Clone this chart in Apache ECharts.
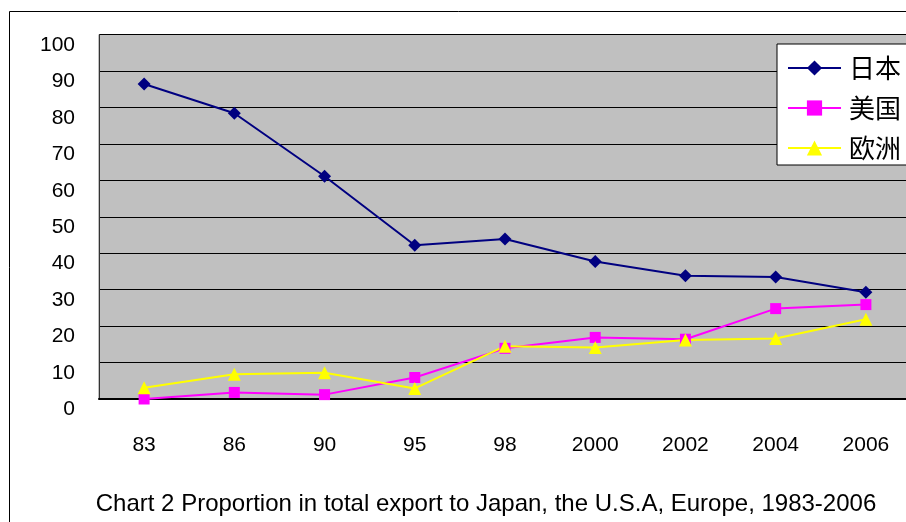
<!DOCTYPE html>
<html>
<head>
<meta charset="utf-8">
<script src="https://cdn.jsdelivr.net/npm/echarts@6/dist/echarts.min.js"></script>
<style>
  html, body { margin: 0; padding: 0; background: #fff; }
  #chart { width: 906px; height: 522px; }
</style>
</head>
<body>
<div id="chart"></div>
<script>
// categories (years) and series values
var years = ['83', '86', '90', '95', '98', '2000', '2002', '2004', '2006'];
var japan = [86.4, 78.4, 61.1, 42.2, 43.9, 37.7, 33.8, 33.5, 29.3];
var usa = [0, 1.8, 1.2, 5.9, 13.9, 16.9, 16.4, 24.8, 25.9];
var europe = [3.1, 6.8, 7.2, 2.9, 14.5, 14.1, 16.2, 16.6, 21.9];
var seriesNames = ['日本', '美国', '欧洲'];
var chartTitle = 'Chart 2 Proportion in total export to Japan, the U.S.A, Europe, 1983-2006';

var font = '"Liberation Sans", Arial, sans-serif';
var cjkFont = '"Noto Sans CJK SC", sans-serif';

var chart = echarts.init(document.getElementById('chart'));

function lineSeries(name, data, color, symbol, size, width) {
    return {
        name: name,
        type: 'line',
        data: data,
        symbol: symbol,
        symbolSize: size,
        showSymbol: true,
        animation: false,
        lineStyle: { color: color, width: width },
        itemStyle: { color: color, borderWidth: 0 },
        emphasis: { disabled: true }
    };
}

chart.setOption({
    animation: false,
    title: {
        text: chartTitle,
        left: 481,
        textAlign: 'center',
        top: 487,
        textStyle: { fontFamily: font, fontSize: 24, fontWeight: 'normal', color: '#000' }
    },
    graphic: [{
        type: 'rect',
        shape: { x: 9.5, y: 11.5, width: 1000, height: 1000 },
        style: { fill: 'none', stroke: '#000', lineWidth: 1 },
        z: 0
    }],
    legend: {
        data: seriesNames,
        orient: 'vertical',
        left: 777,
        top: 44,
        padding: [10, 30, 3, 10],
        itemGap: 12,
        itemWidth: 53,
        itemHeight: 19,
        backgroundColor: '#fff',
        borderColor: '#000',
        borderWidth: 1,
        textStyle: { fontFamily: cjkFont, fontSize: 26, color: '#000', lineHeight: 28, padding: [0, 0, 0, 3] }
    },
    grid: {
        left: 99,
        top: 34.5,
        width: 812,
        bottom: 123,
        outerBoundsMode: 'none',
        show: true,
        backgroundColor: '#C0C0C0',
        borderColor: '#808080',
        borderWidth: 1
    },
    xAxis: {
        type: 'category',
        data: years,
        boundaryGap: true,
        axisLine: { lineStyle: { color: '#000', width: 2 } },
        axisTick: { inside: true, length: 8, lineStyle: { color: '#000' } },
        axisLabel: { margin: 36, fontFamily: font, fontSize: 21, color: '#000' },
        splitLine: { show: false }
    },
    yAxis: {
        type: 'value',
        min: 0,
        max: 100,
        interval: 10,
        axisLine: { show: true, lineStyle: { color: '#333', width: 1 } },
        axisTick: { show: false },
        axisLabel: { margin: 24, verticalAlign: 'top', fontFamily: font, fontSize: 21, color: '#000' },
        splitLine: { lineStyle: { color: '#000', width: 1 } }
    },
    series: [
        lineSeries(seriesNames[0], japan, '#000080', 'diamond', 13, 2),
        lineSeries(seriesNames[1], usa, '#FF00FF', 'rect', 11, 2),
        lineSeries(seriesNames[2], europe, '#FFFF00', 'triangle', 13, 2)
    ]
});
</script>
</body>
</html>
